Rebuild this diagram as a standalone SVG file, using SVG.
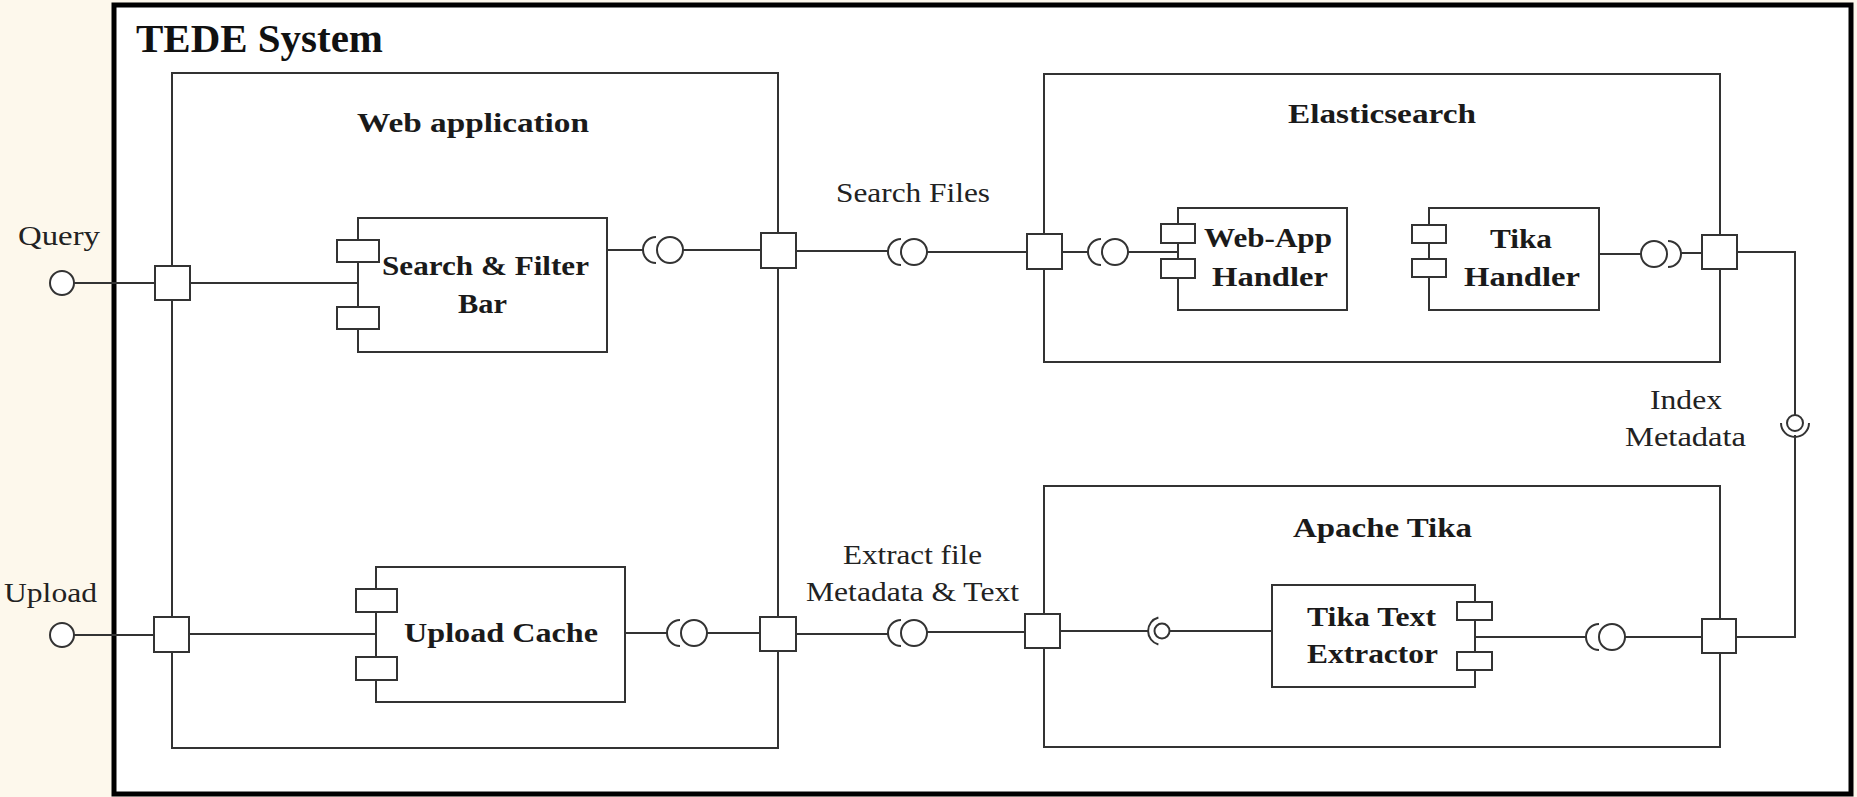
<svg xmlns="http://www.w3.org/2000/svg" width="1857" height="797" viewBox="0 0 1857 797">
<style>
.ln{fill:none;stroke:#333;stroke-width:2}
.bx{fill:#fff;stroke:#333;stroke-width:2}
.pt{fill:#fff;stroke:#333;stroke-width:2}
.b{font-family:"Liberation Serif",serif;font-weight:bold;font-size:28px;fill:#1a1a1a}
.r{font-family:"Liberation Serif",serif;font-size:28px;fill:#222}
</style>
<rect x="0" y="0" width="1857" height="797" fill="#fdf8ec"/>
<g id="tede-system">
<rect x="114" y="5" width="1737" height="789" fill="#fff" stroke="#000" stroke-width="5"/>
<text x="136" y="52" font-family="Liberation Serif,serif" font-weight="bold" font-size="41" fill="#111" textLength="247" lengthAdjust="spacingAndGlyphs">TEDE System</text>
</g>
<g id="web-application">
<rect class="bx" x="172" y="73" width="606" height="675"/>
<text class="b" x="357" y="132" textLength="232" lengthAdjust="spacingAndGlyphs">Web application</text>
</g>
<g id="elasticsearch">
<rect class="bx" x="1044" y="74" width="676" height="288"/>
<text class="b" x="1288" y="123" textLength="188" lengthAdjust="spacingAndGlyphs">Elasticsearch</text>
</g>
<g id="apache-tika">
<rect class="bx" x="1044" y="486" width="676" height="261"/>
<text class="b" x="1293" y="537" textLength="179" lengthAdjust="spacingAndGlyphs">Apache Tika</text>
</g>
<g id="search-filter-bar">
<rect class="bx" x="358" y="218" width="249" height="134"/>
<rect class="pt" x="337" y="240" width="42" height="22"/>
<rect class="pt" x="337" y="307" width="42" height="22"/>
<text class="b" x="382" y="275" textLength="207" lengthAdjust="spacingAndGlyphs">Search &amp; Filter</text>
<text class="b" x="458" y="313" textLength="49" lengthAdjust="spacingAndGlyphs">Bar</text>
</g>
<g id="upload-cache">
<rect class="bx" x="376" y="567" width="249" height="135"/>
<rect class="pt" x="356" y="589" width="41" height="23"/>
<rect class="pt" x="356" y="657" width="41" height="23"/>
<text class="b" x="404" y="642" textLength="194" lengthAdjust="spacingAndGlyphs">Upload Cache</text>
</g>
<g id="web-app-handler">
<rect class="bx" x="1178" y="208" width="169" height="102"/>
<rect class="pt" x="1161" y="224" width="34" height="19"/>
<rect class="pt" x="1161" y="259" width="34" height="19"/>
<text class="b" x="1204" y="247" textLength="128" lengthAdjust="spacingAndGlyphs">Web-App</text>
<text class="b" x="1212" y="286" textLength="116" lengthAdjust="spacingAndGlyphs">Handler</text>
</g>
<g id="tika-handler">
<rect class="bx" x="1429" y="208" width="170" height="102"/>
<rect class="pt" x="1412" y="225" width="34" height="18"/>
<rect class="pt" x="1412" y="259" width="34" height="18"/>
<text class="b" x="1490" y="248" textLength="62" lengthAdjust="spacingAndGlyphs">Tika</text>
<text class="b" x="1464" y="286" textLength="116" lengthAdjust="spacingAndGlyphs">Handler</text>
</g>
<g id="tika-text-extractor">
<rect class="bx" x="1272" y="585" width="203" height="102"/>
<rect class="pt" x="1457" y="602" width="35" height="18"/>
<rect class="pt" x="1457" y="652" width="35" height="18"/>
<text class="b" x="1307" y="626" textLength="129" lengthAdjust="spacingAndGlyphs">Tika Text</text>
<text class="b" x="1307" y="663" textLength="131" lengthAdjust="spacingAndGlyphs">Extractor</text>
</g>
<g id="ports">
<rect class="pt" x="155" y="266" width="35" height="34"/>
<rect class="pt" x="761" y="233" width="35" height="35"/>
<rect class="pt" x="1027" y="234" width="35" height="35"/>
<rect class="pt" x="1702" y="235" width="35" height="34"/>
<rect class="pt" x="154" y="617" width="35" height="35"/>
<rect class="pt" x="760" y="617" width="36" height="34"/>
<rect class="pt" x="1025" y="614" width="35" height="34"/>
<rect class="pt" x="1702" y="619" width="34" height="34"/>
</g>
<g id="query">
<circle class="pt" cx="62" cy="283" r="12"/>
<text class="r" x="18" y="245" textLength="82" lengthAdjust="spacingAndGlyphs">Query</text>
</g>
<g id="upload">
<circle class="pt" cx="62" cy="635" r="12"/>
<text class="r" x="4" y="602" textLength="93" lengthAdjust="spacingAndGlyphs">Upload</text>
</g>
<g id="connectors">
<path class="ln" d="M74 283H155M190 283H358"/>
<path class="ln" d="M607 250H643M656 237A13 13 0 0 0 656 263"/>
<circle class="ln" cx="670" cy="250" r="13"/>
<path class="ln" d="M683 250H761"/>
<path class="ln" d="M796 251H888M901 239A13 13 0 0 0 901 265"/>
<circle class="ln" cx="914" cy="252" r="13"/>
<path class="ln" d="M927 252H1027"/>
<path class="ln" d="M1062 252H1088M1101 239A13 13 0 0 0 1101 265"/>
<circle class="ln" cx="1115" cy="252" r="13"/>
<path class="ln" d="M1128 252H1178"/>
<path class="ln" d="M1599 254H1641"/>
<circle class="ln" cx="1654" cy="254" r="13"/>
<path class="ln" d="M1668 241A13 13 0 0 1 1668 267M1681 253H1702"/>
<path class="ln" d="M1737 252H1795V415M1795 435V637H1736"/>
<circle class="ln" cx="1795" cy="423" r="8"/>
<path class="ln" d="M1781 423A14 14 0 0 0 1809 423"/>
<path class="ln" d="M74 635H154M189 634H376"/>
<path class="ln" d="M625 633H667M680 620A13 13 0 0 0 680 646"/>
<circle class="ln" cx="694" cy="633" r="13"/>
<path class="ln" d="M707 633H760"/>
<path class="ln" d="M796 634H888M901 620A13 13 0 0 0 901 646"/>
<circle class="ln" cx="914" cy="633" r="13"/>
<path class="ln" d="M927 632H1025"/>
<path class="ln" d="M1060 631H1148M1158.4 617.5A14 14 0 0 0 1158.4 644.5"/>
<circle class="ln" cx="1162" cy="631" r="7.5"/>
<path class="ln" d="M1169.5 631H1272"/>
<path class="ln" d="M1475 637H1586M1599 624A13 13 0 0 0 1599 650"/>
<circle class="ln" cx="1612" cy="637" r="13"/>
<path class="ln" d="M1625 637H1702"/>
</g>
<g id="labels">
<text class="r" x="836" y="202" textLength="154" lengthAdjust="spacingAndGlyphs">Search Files</text>
<text class="r" x="843" y="564" textLength="139" lengthAdjust="spacingAndGlyphs">Extract file</text>
<text class="r" x="806" y="601" textLength="213" lengthAdjust="spacingAndGlyphs">Metadata &amp; Text</text>
<text class="r" x="1650" y="409" textLength="72" lengthAdjust="spacingAndGlyphs">Index</text>
<text class="r" x="1625" y="446" textLength="121" lengthAdjust="spacingAndGlyphs">Metadata</text>
</g>
</svg>
